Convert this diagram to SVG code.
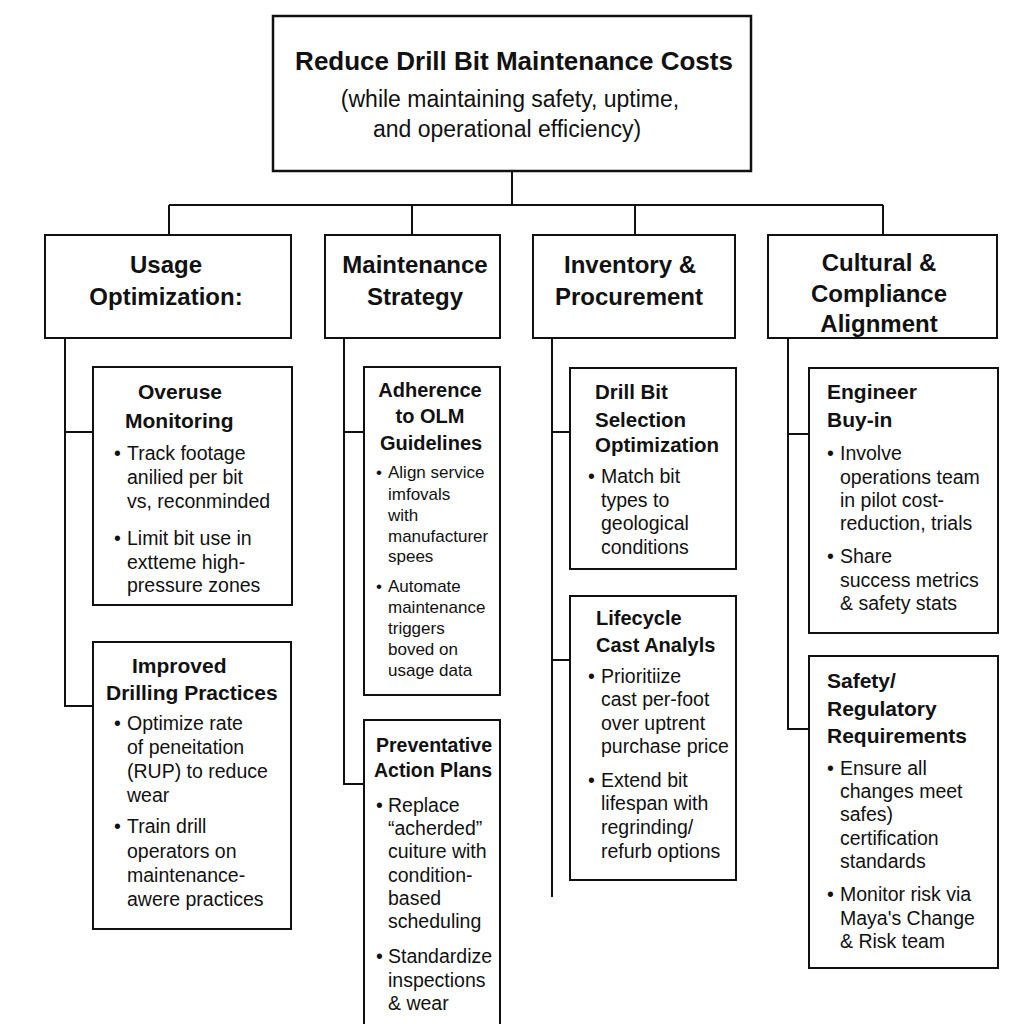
<svg xmlns="http://www.w3.org/2000/svg" width="1024" height="1024" viewBox="0 0 1024 1024">
<style>
.box{fill:#fff;stroke:#111;stroke-width:2}
.ln{fill:none;stroke:#111;stroke-width:2}
text{font-family:"Liberation Sans",Arial,sans-serif;fill:#111}
.title{font-size:26px;font-weight:bold;text-anchor:middle}
.subt{font-size:23px;text-anchor:middle}
.cat{font-size:24px;font-weight:bold;text-anchor:middle}
.sub{font-size:21px;font-weight:bold}
.b{font-size:19.5px}
.bs{font-size:17px}
</style>
<rect width="1024" height="1024" fill="#fff"/>
<g id="connectors">
<path class="ln" d="M512,171 V205 M169,205 H883 M169,205 V235 M412,205 V235 M635,205 V235 M883,205 V235"/>
<path class="ln" d="M65,338 V706 H93 M65,432 H93"/>
<path class="ln" d="M344,338 V784 H364 M344,432 H364"/>
<path class="ln" d="M552,338 V897 M552,432 H570 M552,660 H570"/>
<path class="ln" d="M788,338 V729 H809 M788,434 H809"/>
</g>
<g id="root">
<rect class="box" x="273" y="16" width="478" height="155" style="stroke-width:2.5"/>
<text class="title" x="514" y="70">Reduce Drill Bit Maintenance Costs</text>
<text class="subt" x="510" y="107">(while maintaining safety, uptime,</text>
<text class="subt" x="507" y="137">and operational efficiency)</text>
</g>
<g id="usage">
<rect class="box" x="45" y="235" width="246" height="103"/>
<text class="cat" x="166" y="273">Usage</text>
<text class="cat" x="166" y="305">Optimization:</text>
</g>
<g id="maintenance">
<rect class="box" x="325" y="235" width="175" height="103"/>
<text class="cat" x="415" y="273">Maintenance</text>
<text class="cat" x="415" y="305">Strategy</text>
</g>
<g id="inventory">
<rect class="box" x="533" y="235" width="202" height="103"/>
<text class="cat" x="630" y="273">Inventory &amp;</text>
<text class="cat" x="629" y="305">Procurement</text>
</g>
<g id="cultural">
<rect class="box" x="768" y="235" width="229" height="103"/>
<text class="cat" x="879" y="271">Cultural &amp;</text>
<text class="cat" x="879" y="302">Compliance</text>
<text class="cat" x="879" y="332">Alignment</text>
</g>
<g id="overuse">
<rect class="box" x="93" y="367" width="199" height="238"/>
<text class="sub" x="138" y="399">Overuse</text>
<text class="sub" x="125" y="428">Monitoring</text>
<text class="b"><tspan x="114" y="460">•</tspan><tspan x="127">Track footage</tspan><tspan x="127" y="484">anilied per bit</tspan><tspan x="127" y="508">vs, reconminded</tspan><tspan x="114" y="545">•</tspan><tspan x="127">Limit bit use in</tspan><tspan x="127" y="569">extteme high-</tspan><tspan x="127" y="592">pressure zones</tspan></text>
</g>
<g id="improved">
<rect class="box" x="93" y="642" width="198" height="287"/>
<text class="sub" x="132" y="673">Improved</text>
<text class="sub" x="106" y="700">Drilling Practices</text>
<text class="b"><tspan x="114" y="730">•</tspan><tspan x="127">Optimize rate</tspan><tspan x="127" y="754">of peneitation</tspan><tspan x="127" y="778">(RUP) to reduce</tspan><tspan x="127" y="802">wear</tspan><tspan x="114" y="833">•</tspan><tspan x="127">Train drill</tspan><tspan x="127" y="858">operators on</tspan><tspan x="127" y="882">maintenance-</tspan><tspan x="127" y="906">awere practices</tspan></text>
</g>
<g id="adherence">
<rect class="box" x="364" y="367" width="136" height="328"/>
<text class="sub" x="430" y="397" style="font-size:20px;text-anchor:middle">Adherence</text>
<text class="sub" x="430" y="423" style="font-size:20px;text-anchor:middle">to OLM</text>
<text class="sub" x="431" y="450" style="font-size:20px;text-anchor:middle">Guidelines</text>
<text class="bs"><tspan x="376" y="478">•</tspan><tspan x="388">Align service</tspan><tspan x="388" y="500">imfovals</tspan><tspan x="388" y="521">with</tspan><tspan x="388" y="542">manufacturer</tspan><tspan x="388" y="562">spees</tspan><tspan x="376" y="592">•</tspan><tspan x="388">Automate</tspan><tspan x="388" y="613">maintenance</tspan><tspan x="388" y="634">triggers</tspan><tspan x="388" y="655">boved on</tspan><tspan x="388" y="676">usage data</tspan></text>
</g>
<g id="preventative">
<rect class="box" x="364" y="720" width="136" height="320"/>
<text class="sub" x="376" y="752" style="font-size:19.5px">Preventative</text>
<text class="sub" x="374" y="777" style="font-size:19.5px">Action Plans</text>
<text class="b"><tspan x="376" y="812">•</tspan><tspan x="388">Replace</tspan><tspan x="388" y="835">“acherded”</tspan><tspan x="388" y="858">cuiture with</tspan><tspan x="388" y="882">condition-</tspan><tspan x="388" y="905">based</tspan><tspan x="388" y="928">scheduling</tspan><tspan x="376" y="963">•</tspan><tspan x="388">Standardize</tspan><tspan x="388" y="987">inspections</tspan><tspan x="388" y="1010">&amp; wear</tspan></text>
</g>
<g id="selection">
<rect class="box" x="570" y="368" width="166" height="201"/>
<text class="sub" x="595" y="399" style="font-size:20.5px">Drill Bit</text>
<text class="sub" x="595" y="427" style="font-size:20.5px">Selection</text>
<text class="sub" x="595" y="452" style="font-size:20.5px">Optimization</text>
<text class="b"><tspan x="588" y="483">•</tspan><tspan x="601">Match bit</tspan><tspan x="601" y="507">types to</tspan><tspan x="601" y="530">geological</tspan><tspan x="601" y="554">conditions</tspan></text>
</g>
<g id="lifecycle">
<rect class="box" x="570" y="596" width="166" height="284"/>
<text class="sub" x="596" y="625" style="font-size:20px">Lifecycle</text>
<text class="sub" x="596" y="652" style="font-size:20px">Cast Analyls</text>
<text class="b"><tspan x="588" y="683">•</tspan><tspan x="601">Prioritiize</tspan><tspan x="601" y="706">cast per-foot</tspan><tspan x="601" y="730">over uptrent</tspan><tspan x="601" y="753">purchase price</tspan><tspan x="588" y="787">•</tspan><tspan x="601">Extend bit</tspan><tspan x="601" y="810">lifespan with</tspan><tspan x="601" y="834">regrinding/</tspan><tspan x="601" y="858">refurb options</tspan></text>
</g>
<g id="engineer">
<rect class="box" x="809" y="368" width="189" height="265"/>
<text class="sub" x="827" y="399">Engineer</text>
<text class="sub" x="827" y="427">Buy-in</text>
<text class="b"><tspan x="827" y="460">•</tspan><tspan x="840">Involve</tspan><tspan x="840" y="484">operations team</tspan><tspan x="840" y="507">in pilot cost-</tspan><tspan x="840" y="530">reduction, trials</tspan><tspan x="827" y="563">•</tspan><tspan x="840">Share</tspan><tspan x="840" y="587">success metrics</tspan><tspan x="840" y="610">&amp; safety stats</tspan></text>
</g>
<g id="safety">
<rect class="box" x="809" y="656" width="189" height="312"/>
<text class="sub" x="827" y="688">Safety/</text>
<text class="sub" x="827" y="716">Regulatory</text>
<text class="sub" x="827" y="743">Requirements</text>
<text class="b"><tspan x="827" y="775">•</tspan><tspan x="840">Ensure all</tspan><tspan x="840" y="798">changes meet</tspan><tspan x="840" y="821">safes)</tspan><tspan x="840" y="845">certification</tspan><tspan x="840" y="868">standards</tspan><tspan x="827" y="901">•</tspan><tspan x="840">Monitor risk via</tspan><tspan x="840" y="925">Maya's Change</tspan><tspan x="840" y="948">&amp; Risk team</tspan></text>
</g>
</svg>
